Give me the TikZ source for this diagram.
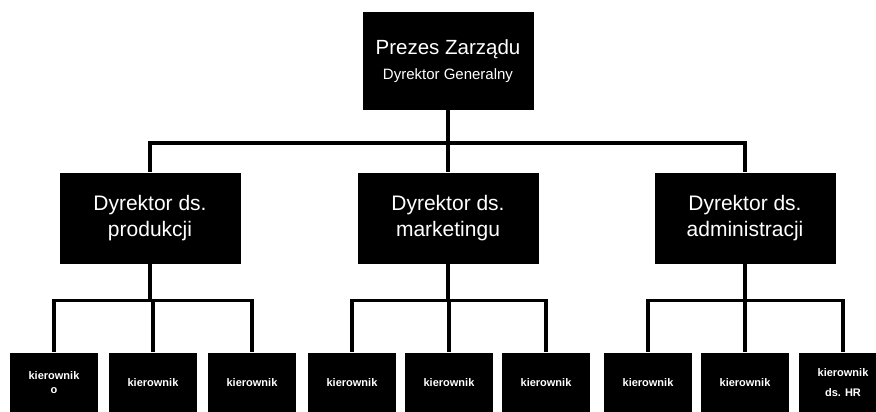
\documentclass[tikz,border=0pt]{standalone}
\usepackage{fontspec}
\setmainfont{Liberation Sans}
\usepackage{tikz}
\usetikzlibrary{positioning}

\tikzset{
    boss/.style={fill=black, text=white, align=center, inner sep=0pt,
        minimum width=171pt, minimum height=98pt, font=\fontsize{20.5}{24}\selectfont},
    director/.style={fill=black, text=white, align=center, inner sep=0pt,
        minimum width=181pt, minimum height=91pt, font=\fontsize{21}{26}\selectfont},
    manager/.style={fill=black, text=white, align=center, inner sep=0pt,
        minimum width=88pt, minimum height=61pt, font=\bfseries\fontsize{11}{22}\selectfont},
    link/.style={line width=3.5pt}
}

\begin{document}
\begin{tikzpicture}[x=1pt, y=-1pt]
    \useasboundingbox (0,0) rectangle (876,412);
    \clip (0,0) rectangle (876,412);

    % Top level
    \node[boss] (ceo) at (448,61)
        {Prezes Zarządu\\[1pt]{\fontsize{15}{18}\selectfont Dyrektor Generalny}};

    % Directors
    \node[director] (prod) at (150,218) {Dyrektor ds.\\produkcji};
    \node[director] (mark) at (448,218) {Dyrektor ds.\\marketingu};
    \node[director] (admin) at (745,218) {Dyrektor ds.\\administracji};

    % Managers
    \node[manager] (k1) at (54,383) {kierownik\\[-8pt]o};
    \foreach \n/\x in {2/153, 3/252, 4/352, 5/449, 6/546, 7/648, 8/745}
        \node[manager] (k\n) at (\x,383) {kierownik};
    \node[manager] (k9) at (843,383) {kierownik\\[-2pt]ds. HR};

    % Connectors
    \foreach \d in {prod, mark, admin}
        \draw[link] (ceo.south) -- ++(0,33) -| (\d.north);
    \foreach \k in {k1, k2, k3}
        \draw[link] (prod.south) -- ++(0,37) -| (\k.north);
    \foreach \k in {k4, k5, k6}
        \draw[link] (mark.south) -- ++(0,37) -| (\k.north);
    \foreach \k in {k7, k8, k9}
        \draw[link] (admin.south) -- ++(0,37) -| (\k.north);
\end{tikzpicture}
\end{document}
